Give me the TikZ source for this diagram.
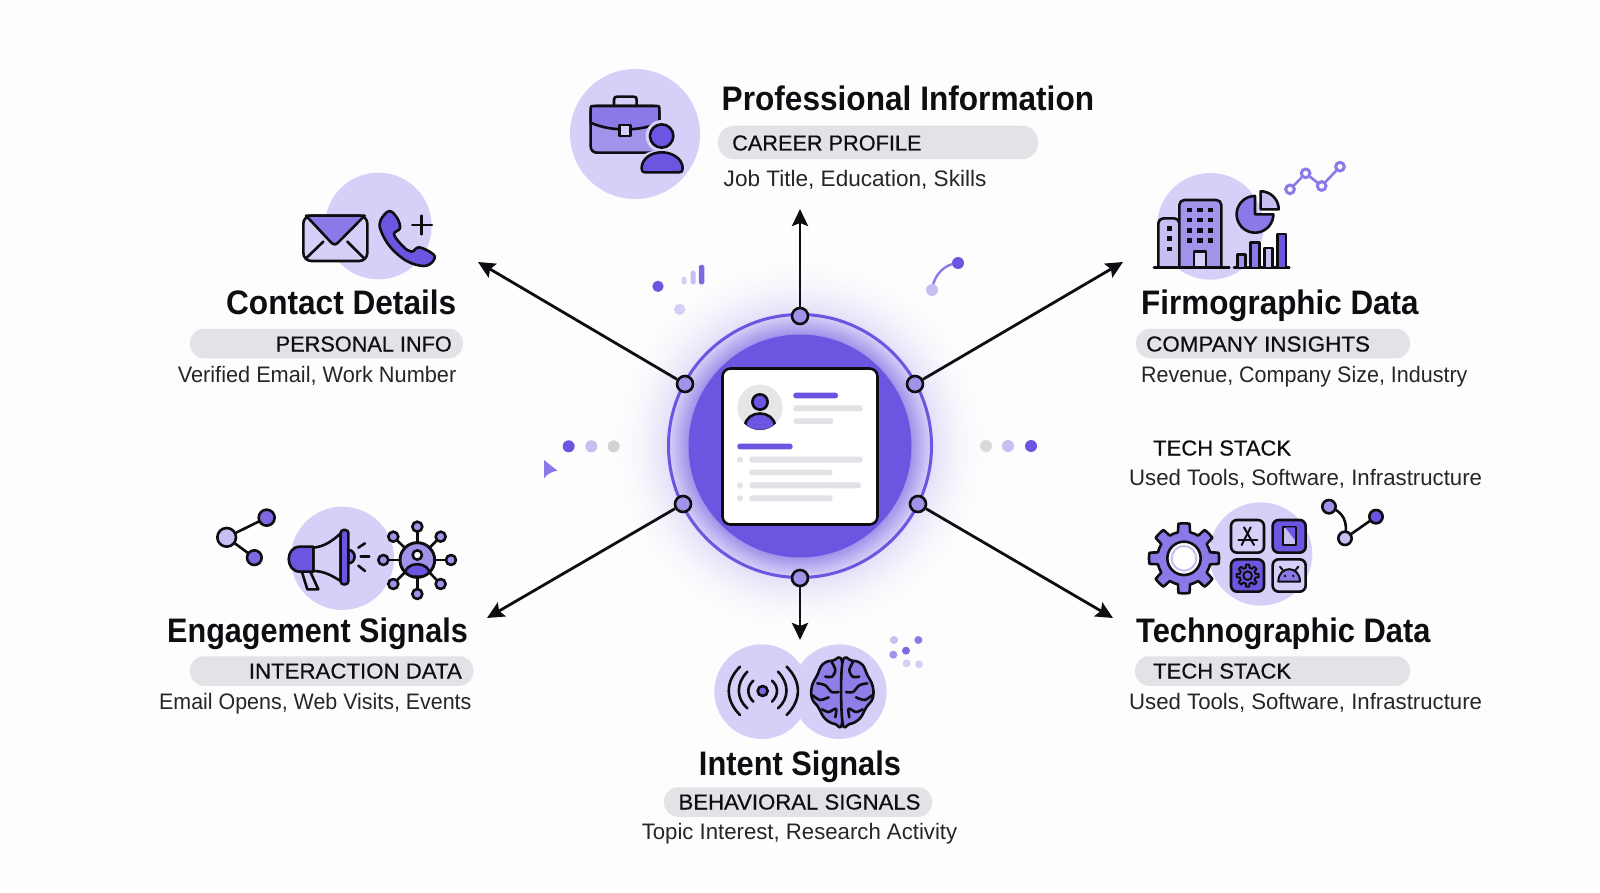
\documentclass[tikz,border=0pt]{standalone}
\usepackage{fontspec}
\usetikzlibrary{arrows.meta}
\newfontfamily\ttlfont[FakeStretch=0.93]{Liberation Sans Bold}
\newfontfamily\pillfont[FakeBold=0.5]{Liberation Sans}
\newfontfamily\bodyfont{Liberation Sans}
\definecolor{bgc}{HTML}{FDFDFD}
\definecolor{pM}{HTML}{6C55E0}
\definecolor{pA}{HTML}{7E67E0}
\definecolor{pB}{HTML}{8C78E6}
\definecolor{pC}{HTML}{A392EA}
\definecolor{pD}{HTML}{C8BEF2}
\definecolor{pE}{HTML}{D6CFF7}
\definecolor{gA}{HTML}{E3E2E7}
\definecolor{gB}{HTML}{E6E6E8}
\definecolor{inkc}{HTML}{0E0E12}
\tikzset{
 ic/.style={draw=inkc,line width=2.6pt,line join=round,line cap=round},
 thinic/.style={draw=inkc,line width=2pt,line join=round,line cap=round},
 ttl/.style={font=\ttlfont\fontsize{34}{40}\selectfont,text=inkc,inner sep=0pt},
 pilltxt/.style={font=\pillfont\fontsize{21.7}{26}\selectfont,text=inkc,inner sep=0pt},
 bodytxt/.style={font=\bodyfont\fontsize{22.4}{26}\selectfont,text=inkc!90,inner sep=0pt},
 pill/.style={fill=gA,rounded corners=14pt,inner sep=0pt},
 hub/.style={circle,draw=inkc,fill=pC,line width=2.6pt,minimum size=16pt,inner sep=0pt},
 conn/.style={draw=inkc,line width=2.8pt,-{Stealth[length=17pt,width=16pt,inset=3pt]}},
 zoomed/.style={x=0.3333pt,y=-0.3333pt},
}
\newcommand{\sx}[2]{\scalebox{#1}[1]{#2}}
\newcommand{\mygear}[5]{% cx cy rin rout style
 \begin{scope}[shift={(#1,#2)}]
 \draw[#5] plot[domain=0:360,samples=241] (\x:{#3+(#4-#3)*min(1,max(0,2*cos(8*\x)+0.4))}) -- cycle;
 \end{scope}}
\newcommand{\hemi}{%
 \draw[ic,fill=pB!80!pC] plot[smooth cycle,tension=0.7] coordinates {(427,130)(398,122)(368,133)(352,165)(336,198)(336,235)(355,262)(375,296)(405,312)(427,304)};
 \draw[ic] plot[smooth] coordinates {(395,126)(406,150)(396,170)(376,170)};
 \draw[ic] plot[smooth] coordinates {(352,190)(376,196)(395,216)(416,216)};
 \draw[ic] plot[smooth] coordinates {(338,226)(360,240)(386,232)};
 \draw[ic] plot[smooth] coordinates {(366,268)(386,276)(408,266)(406,292)};
}
\begin{document}
\begin{tikzpicture}[x=1pt,y=-1pt]
\useasboundingbox (0,0) rectangle (1600,893);
\fill[bgc] (0,0) rectangle (1600,893);
% glow
\foreach \r in {190,188,...,132}{\pgfmathsetmacro\p{100*((190-\r)/58)^2*0.5}
 \fill[pD!\p!bgc] (800,446) circle (\r);}
\foreach \r in {131,130,...,112}{\pgfmathsetmacro\p{(131-\r)/19*100}
 \fill[pC!\p!pE] (800,446) circle (\r);}
\draw[pM,line width=3pt] (800,446) circle (131.5);
\fill[pM] (800,446) circle (111.5);
% card
\node[name=card,draw=inkc,fill=white,line width=2.6pt,rounded corners=8pt,minimum width=155pt,minimum height=156pt,inner sep=0pt] at (800,446.5) {};
\begin{scope}[shift={(620,290)},zoomed]
 \fill[gB] (420,352) circle (68);
 \begin{scope}
  \clip (420,352) circle (68);
  \draw[ic,fill=pM] (375,408) .. controls (378,358) and (462,358) .. (465,408) .. controls (440,428) and (400,428) .. (375,408) -- cycle;
 \end{scope}
 \draw[ic,fill=pM] (420,336) circle (23);
 \fill[pM,rounded corners=2.5pt] (520,308) rectangle (654,325);
 \fill[gA,rounded corners=2.5pt] (520,346) rectangle (728,364);
 \fill[gA,rounded corners=2.5pt] (520,385) rectangle (640,402);
 \fill[pM,rounded corners=2.5pt] (352,461) rectangle (518,478);
 \foreach \y in {509,586,625}{\fill[gA] (360,\y) circle (9);}
 \fill[gA,rounded corners=2.5pt] (388,500) rectangle (728,518);
 \fill[gA,rounded corners=2.5pt] (388,539) rectangle (638,556);
 \fill[gA,rounded corners=2.5pt] (388,577) rectangle (723,595);
 \fill[gA,rounded corners=2.5pt] (388,616) rectangle (638,634);
\end{scope}
% hubs and connectors
\node[hub,name=hT] at (800,316) {};
\node[hub,name=hB] at (800,578) {};
\node[hub,name=hUL] at (685,384) {};
\node[hub,name=hUR] at (915,384) {};
\node[hub,name=hLL] at (683,504) {};
\node[hub,name=hLR] at (918,504) {};
\coordinate (eT) at (800,209);
\coordinate (eB) at (800,640);
\coordinate (eUL) at (478,262);
\coordinate (eUR) at (1123,262);
\coordinate (eLL) at (487,618);
\coordinate (eLR) at (1113,618);
\foreach \a/\b in {hT/eT,hB/eB,hUL/eUL,hUR/eUR,hLL/eLL,hLR/eLR}{\draw[conn] (\a) -- (\b);}
% decorations
\begin{scope}[shift={(520,240)},zoomed]
 \fill[pM] (414,139) circle (17);
 \fill[pE] (479,208) circle (17);
 \fill[pE,rounded corners=1.5pt] (485,110) rectangle (500,133);
 \fill[pD,rounded corners=1.5pt] (512,92) rectangle (527,133);
 \fill[pA,rounded corners=1.5pt] (537,75) rectangle (553,133);
 \fill[pM] (146,619) circle (18);
 \fill[pD] (214,619) circle (18);
 \fill[gray!35] (281,619) circle (18);
 \fill[pB] (72,660) -- (112,692) .. controls (95,695) and (82,702) .. (72,715) -- cycle;
\end{scope}
\fill[gray!30] (986,446) circle (6);
\fill[pD] (1008,446) circle (6);
\fill[pM] (1031,446) circle (6);
\draw[pB,line width=2.4pt] (932,290) .. controls (934,274) and (945,264) .. (958,263);
\fill[pD] (932,290) circle (6);
\fill[pM] (958,263) circle (6);
% top icon
\begin{scope}[shift={(560,60)},zoomed]
 \fill[pE] (225,222) circle (195);
 \draw[ic,fill=pE] (162,138) -- (162,120) .. controls (162,112) and (165,110) .. (172,110) -- (220,110) .. controls (228,110) and (230,112) .. (230,120) -- (230,138);
 \draw[ic,fill=pC,rounded corners=6pt] (92,138) rectangle (298,278);
 \draw[ic,fill=pB] (92,144) .. controls (92,138) and (94,138) .. (100,138) -- (290,138) .. controls (296,138) and (298,138) .. (298,144) -- (298,188) .. controls (240,215) and (150,215) .. (92,188) -- cycle;
 \draw[ic,fill=pE] (178,195) rectangle (212,228);
 \fill[pE] (305,228) circle (48);
 \fill[pE] (305,320) ellipse (78 and 50);
 \draw[ic,fill=pM] (305,228) circle (35);
 \draw[ic,fill=pM] (245,325) .. controls (245,295) and (275,277) .. (305,277) .. controls (335,277) and (368,295) .. (368,325) .. controls (368,334) and (365,337) .. (358,337) -- (255,337) .. controls (248,337) and (245,334) .. (245,325) -- cycle;
\end{scope}
% contact icon
\begin{scope}[shift={(290,165)},zoomed]
 \fill[pE] (265,183) circle (160);
 \draw[ic,fill=pE,rounded corners=8pt] (40,152) rectangle (232,288);
 \draw[ic,fill=pB] (48,152) -- (224,152) -- (145,232) .. controls (138,240) and (130,240) .. (123,232) -- cycle;
 \draw[ic] (48,280) -- (100,230);
 \draw[ic] (222,280) -- (172,230);
 \draw[ic,fill=pM] plot[smooth cycle,tension=0.6] coordinates {(272,165)(298,138)(322,160)(330,190)(312,208)(340,245)(365,260)(388,247)(430,268)(430,288)(402,303)(350,288)(300,245)(272,195)};
 \draw[ic] (395,152) -- (395,208);
 \draw[ic] (367,180) -- (426,180);
\end{scope}
% firmographic icon
\begin{scope}[shift={(1140,150)},zoomed]
 \fill[pE] (211,229) circle (160);
 \draw[ic,fill=pD,rounded corners=5pt] (55,352) -- (55,205) -- (118,205) -- (118,352);
 \foreach \y in {228,258,290}{\fill[inkc] (80,\y) rectangle +(16,14);}
 \draw[ic,fill=pC,rounded corners=5pt] (118,352) -- (118,150) -- (244,150) -- (244,352);
 \foreach \x in {140,172,204}{\foreach \y in {173,203,234,265}{\fill[inkc] (\x,\y) rectangle +(16,14);}}
 \draw[ic,fill=pE] (162,352) -- (162,305) -- (198,305) -- (198,352);
 \draw[ic] (42,352) -- (268,352);
 \draw[ic] (282,352) -- (448,352);
 \begin{scope}[shift={(345,193)}]
  \draw[ic,fill=pB] (0,0) -- plot[domain=-90:-360,samples=40] (\x:55) -- cycle;
 \end{scope}
 \begin{scope}[shift={(362,178)}]
  \draw[ic,fill=pD] (0,0) -- plot[domain=-90:0,samples=20] (\x:54) -- cycle;
 \end{scope}
 \draw[ic,fill=pC] (293,352) -- (293,314) -- (317,314) -- (317,352);
 \draw[ic,fill=pB] (332,352) -- (332,277) -- (358,277) -- (358,352);
 \draw[ic,fill=pD] (373,352) -- (373,294) -- (397,294) -- (397,352);
 \draw[ic,fill=pM] (412,352) -- (412,252) -- (438,252) -- (438,352);
 \draw[pB,line width=2.6pt] (450,118) -- (497,70) -- (545,108) -- (600,50);
 \foreach \x/\y in {450/118,497/70,545/108,600/50}{\draw[pB,fill=bgc,line width=3pt] (\x,\y) circle (13);}
\end{scope}
% technographic icon
\begin{scope}[shift={(1130,490)},zoomed]
 \fill[pE] (392,192) circle (155);
 \mygear{162}{205}{80}{105}{ic,fill=pB}
 \draw[ic,fill=white] (162,205) circle (50);
 \draw[pD,line width=2pt] (162,205) circle (37);
 \draw[ic,fill=pE,rounded corners=6pt] (303,90) rectangle (402,188);
 \draw[thinic] (362,112) -- (335,165);
 \draw[thinic] (342,112) -- (372,165);
 \draw[thinic] (325,150) -- (382,150);
 \draw[ic,fill=pM,rounded corners=6pt] (428,90) rectangle (527,188);
 \draw[thinic,fill=pD] (460,110) rectangle (497,165);
 \fill[pM] (465,112) -- (495,112) -- (495,150) -- cycle;
 \draw[ic,fill=pM,rounded corners=6pt] (303,208) rectangle (402,305);
 \mygear{353}{257}{24}{33}{thinic}
 \draw[thinic] (353,257) circle (13);
 \draw[ic,fill=pE,rounded corners=6pt] (428,208) rectangle (527,305);
 \draw[thinic,fill=pB] (445,275) .. controls (445,225) and (510,225) .. (510,275) -- cycle;
 \draw[thinic] (458,240) -- (450,230);
 \draw[thinic] (497,240) -- (505,230);
 \fill[inkc] (465,258) circle (4);
 \fill[inkc] (490,258) circle (4);
 \draw[ic] (597,50) .. controls (640,65) and (655,95) .. (645,145);
 \draw[ic] (645,145) -- (738,80);
 \draw[ic,fill=pC] (597,50) circle (20);
 \draw[ic,fill=pD] (645,145) circle (20);
 \draw[ic,fill=pM] (738,80) circle (20);
\end{scope}
% engagement icon
\begin{scope}[shift={(200,495)},zoomed]
 \fill[pE] (427,190) circle (155);
 \draw[ic] (200,68) -- (80,127) -- (163,188);
 \draw[ic,fill=pD] (80,127) circle (28);
 \draw[ic,fill=pA] (200,68) circle (24);
 \draw[ic,fill=pA] (163,188) circle (22);
 \draw[ic,fill=pE] (305,228) -- (330,228) -- (355,283) -- (322,283) -- cycle;
 \draw[ic,fill=pE] (340,158) .. controls (375,155) and (400,135) .. (422,115) -- (422,258) .. controls (400,245) and (375,228) .. (340,228) -- cycle;
 \draw[ic,fill=pM] (340,155) -- (300,155) .. controls (255,155) and (255,230) .. (300,230) -- (340,230) -- cycle;
 \draw[ic,fill=pB] (445,165) .. controls (470,165) and (470,205) .. (445,205) -- cycle;
 \draw[ic,fill=pM,rounded corners=3pt] (422,105) rectangle (445,268);
 \draw[ic] (475,158) -- (495,145);
 \draw[ic] (482,185) -- (508,185);
 \draw[ic] (475,212) -- (495,228);
 \foreach \x/\y in {652/95,722/125,753/195,722/267,652/297,580/267,550/195,580/125}{
  \draw[ic] (652,195) -- (\x,\y);
  \draw[ic,fill=pC] (\x,\y) circle (15);}
 \draw[ic,fill=pC] (652,195) circle (52);
 \begin{scope}
  \clip (652,195) circle (52);
  \draw[ic,fill=pM] (612,245) .. controls (612,195) and (692,195) .. (692,245) -- cycle;
 \end{scope}
 \draw[ic] (652,195) circle (52);
 \draw[ic,fill=white] (652,180) circle (14);
\end{scope}
% intent icon
\begin{scope}[shift={(700,620)},zoomed]
 \fill[pE] (185,215) circle (142);
 \fill[pE] (418,215) circle (142);
 \draw[ic,fill=pA] (188,213) circle (15);
 \draw[ic] (160,182) .. controls (140,200) and (140,225) .. (160,245);
 \draw[ic] (216,182) .. controls (236,200) and (236,225) .. (216,245);
 \draw[ic] (142,155) .. controls (108,190) and (108,235) .. (142,265);
 \draw[ic] (234,155) .. controls (268,190) and (268,235) .. (234,265);
 \draw[ic] (120,140) .. controls (75,185) and (75,240) .. (120,285);
 \draw[ic] (260,140) .. controls (305,185) and (305,240) .. (260,285);
 \hemi
 \begin{scope}[shift={(854,0)},x=-0.3333pt]\hemi\end{scope}
 \fill[pD] (582,60) circle (12);
 \fill[pB] (655,60) circle (12);
 \fill[pC] (580,104) circle (12);
 \fill[pA] (618,92) circle (12);
 \fill[pE] (620,130) circle (12);
 \fill[pE] (657,133) circle (12);
\end{scope}
% text: top
\node[ttl,name=tP,anchor=base west] at (721.5,110.5) {Professional Information};
\node[pill,name=pP,minimum width=320pt,minimum height=33.5pt,rounded corners=16pt] at (878,142.5) {};
\node[pilltxt,name=lP,anchor=base west] at (732,150.5) {CAREER PROFILE};
\node[bodytxt,name=bP,anchor=base west] at (723.5,186.5) {\sx{1.008}{Job Title, Education, Skills}};
% contact
\node[ttl,name=tC,anchor=base east] at (456.5,314) {Contact Details};
\node[pill,name=pC,minimum width=273pt,minimum height=29.5pt] at (326.5,343.5) {};
\node[pilltxt,name=lC,anchor=base east] at (452,351.5) {PERSONAL INFO};
\node[bodytxt,name=bC,anchor=base east] at (456.5,382) {\sx{0.97}{Verified Email, Work Number}};
% firmographic
\node[ttl,name=tF,anchor=base west] at (1141,314) {\sx{0.993}{Firmographic Data}};
\node[pill,name=pF,minimum width=274pt,minimum height=29.5pt] at (1273,343.5) {};
\node[pilltxt,name=lF,anchor=base west] at (1146,351.5) {\sx{1.033}{COMPANY INSIGHTS}};
\node[bodytxt,name=bF,anchor=base west] at (1141,382) {\sx{0.96}{Revenue, Company Size, Industry}};
% upper tech stack
\node[pilltxt,name=lU,anchor=base west] at (1153,455.5) {\sx{1.015}{TECH STACK}};
\node[bodytxt,name=bU,anchor=base west] at (1129,485.5) {\sx{0.991}{Used Tools, Software, Infrastructure}};
% technographic
\node[ttl,name=tT,anchor=base west] at (1136,642) {\sx{0.976}{Technographic Data}};
\node[pill,name=pT,minimum width=275pt,minimum height=29.5pt] at (1272.5,671) {};
\node[pilltxt,name=lT,anchor=base west] at (1153,678.5) {\sx{1.015}{TECH STACK}};
\node[bodytxt,name=bT,anchor=base west] at (1129,709) {\sx{0.991}{Used Tools, Software, Infrastructure}};
% engagement
\node[ttl,name=tE,anchor=base west] at (167,642) {\sx{0.967}{Engagement Signals}};
\node[pill,name=pEn,minimum width=283.5pt,minimum height=29.5pt] at (331.7,671) {};
\node[pilltxt,name=lE,anchor=base east] at (462,678.5) {\sx{1.025}{INTERACTION DATA}};
\node[bodytxt,name=bE,anchor=base west] at (159,709) {\sx{0.956}{Email Opens, Web Visits, Events}};
% intent
\node[ttl,name=tI,anchor=base] at (800,775) {\sx{0.975}{Intent Signals}};
\node[pill,name=pI,minimum width=268pt,minimum height=29.5pt] at (798,802) {};
\node[pilltxt,name=lI,anchor=base] at (799.5,809.5) {\sx{1.02}{BEHAVIORAL SIGNALS}};
\node[bodytxt,name=bI,anchor=base] at (799.5,839.5) {\sx{0.99}{Topic Interest, Research Activity}};
\end{tikzpicture}
\end{document}
